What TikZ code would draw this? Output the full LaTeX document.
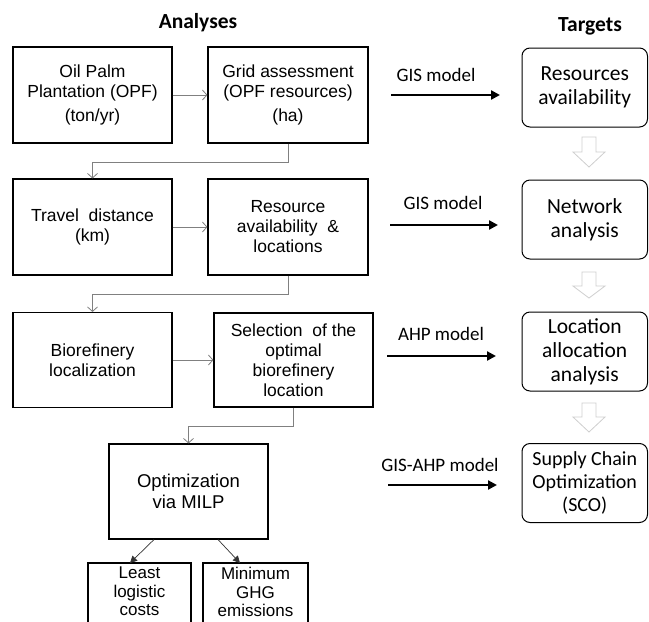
\documentclass[tikz,border=0pt]{standalone}
\usepackage{fontspec}
\setmainfont{Liberation Sans}
\newfontfamily\calib{Carlito}
\usetikzlibrary{arrows.meta}
\definecolor{flowgray}{HTML}{808080}
\definecolor{hollowgray}{HTML}{CFCFCF}
\tikzset{
  lbox/.style={draw=black, line width=1.1pt, align=center, inner sep=0pt,
    font=\fontsize{17.5}{20}\selectfont},
  ltext/.style={align=center, inner sep=0pt, font=\fontsize{17}{18.5}\selectfont},
  tbox/.style={draw=black, line width=1pt, rounded corners=8pt, align=center, inner sep=0pt,
    minimum width=125.5pt, minimum height=79pt, font=\calib\fontsize{21.5}{24}\selectfont},
  flow/.style={draw=flowgray, line width=0.8pt, -{Straight Barb[length=4.5pt,width=10pt]}},
  bigarrow/.style={draw=black, line width=2.7pt, -{Triangle[length=9pt,width=9pt]}},
  diag/.style={draw=black!80, line width=0.7pt, -{Triangle[length=7pt,width=7pt]}},
  mlabel/.style={font=\calib\fontsize{19}{22}\selectfont, inner sep=0pt},
  title/.style={font=\calib\bfseries\fontsize{21.5}{24}\selectfont, inner sep=0pt},
  hollow/.style={draw=hollowgray, line width=0.8pt, fill=white, line join=miter},
  openbox/.style={draw=black, line width=1.1pt}
}
\begin{document}
\begin{tikzpicture}[x=1pt,y=-1pt]
\clip (0,0) rectangle (649,622);
\fill[white] (0,0) rectangle (649,622);

% titles
\node[title] (tan) at (198,23) {Analyses};
\node[title] (ttg) at (590,26) {Targets};

% left boxes
\node[lbox, minimum width=159pt, minimum height=96pt] (A1) at (92.5,95)
  {Oil Palm\\Plantation (OPF)\\[4pt](ton/yr)};
\node[lbox, minimum width=160pt, minimum height=96pt] (A2) at (288,95)
  {Grid assessment\\(OPF resources)\\[4pt](ha)};
\node[lbox, minimum width=159pt, minimum height=96pt] (B1) at (92.5,227)
  {Travel\ \ distance\\(km)};
\node[lbox, minimum width=160pt, minimum height=96pt] (B2) at (288,227)
  {Resource\\availability\ \ \&\\locations};
\node[lbox, minimum width=159pt, minimum height=95pt] (C1) at (92.5,360)
  {Biorefinery\\localization};
\node[lbox, minimum width=159pt, minimum height=94pt] (C2) at (293.5,360)
  {Selection\ \ of the\\optimal\\biorefinery\\location};
\node[lbox, minimum width=159pt, minimum height=95pt, font=\fontsize{18.5}{20.5}\selectfont] (D) at (188.5,491.5)
  {Optimization\\via MILP};

% bottom boxes (cut by the lower edge of the picture)
\draw[openbox] (88,640) |- (191,563) -- (191,640);
\draw[openbox] (203,640) |- (308,563) -- (308,640);
\coordinate (E1top) at (130,563);
\coordinate (E2top) at (240,563);
\node[ltext, anchor=north] (E1) at (139.5,567) {Least\\logistic\\costs};
\node[ltext, anchor=north] (E2) at (255.5,567) {Minimum\\GHG\\emissions};

% target boxes
\node[tbox] (T1) at (584.75,87.5) {Resources\\availability};
\node[tbox] (T2) at (584.75,219.5) {Network\\analysis};
\node[tbox] (T3) at (584.75,351.5) {Location\\allocation\\analysis};
\node[tbox, font=\calib\fontsize{20}{23}\selectfont] (T4) at (584.75,483) {Supply Chain\\Optimization\\(SCO)};

% flow connectors
\draw[flow] (A1) -- (A2);
\draw[flow] (B1) -- (B2);
\draw[flow] (C1) -- (C2);
\draw[flow] (A2.south) -- ++(0,19) -| (B1.north);
\draw[flow] (B2.south) -- ++(0,19) -| (C1.north);
\draw[flow] (C2.south) -- ++(0,19) -| (D.north);
\draw[diag] ([xshift=-34.5pt]D.south) -- (E1top);
\draw[diag] ([xshift=29.5pt]D.south) -- (E2top);

% model arrows
\node[mlabel] (m1) at (436,75) {GIS model};
\node[mlabel] (m2) at (443,203) {GIS model};
\node[mlabel] (m3) at (441,334) {AHP model};
\node[mlabel] (m4) at (440,465) {GIS-AHP model};
\coordinate (s1) at (391,95);  \coordinate (e1) at (500,95);
\coordinate (s2) at (390,225); \coordinate (e2) at (498,225);
\coordinate (s3) at (387,356); \coordinate (e3) at (496,356);
\coordinate (s4) at (388,485); \coordinate (e4) at (497,485);
\draw[bigarrow] (s1) -- (e1);
\draw[bigarrow] (s2) -- (e2);
\draw[bigarrow] (s3) -- (e3);
\draw[bigarrow] (s4) -- (e4);

% hollow block arrows between targets
\foreach \t/\h/\p in {137/152/167, 272/286/298, 403/417/432}{
  \draw[hollow] (582,\t) -- (596,\t) -- (596,\h) -- (605,\h) -- (589,\p)
    -- (573,\h) -- (582,\h) -- cycle;
}
\end{tikzpicture}
\end{document}
